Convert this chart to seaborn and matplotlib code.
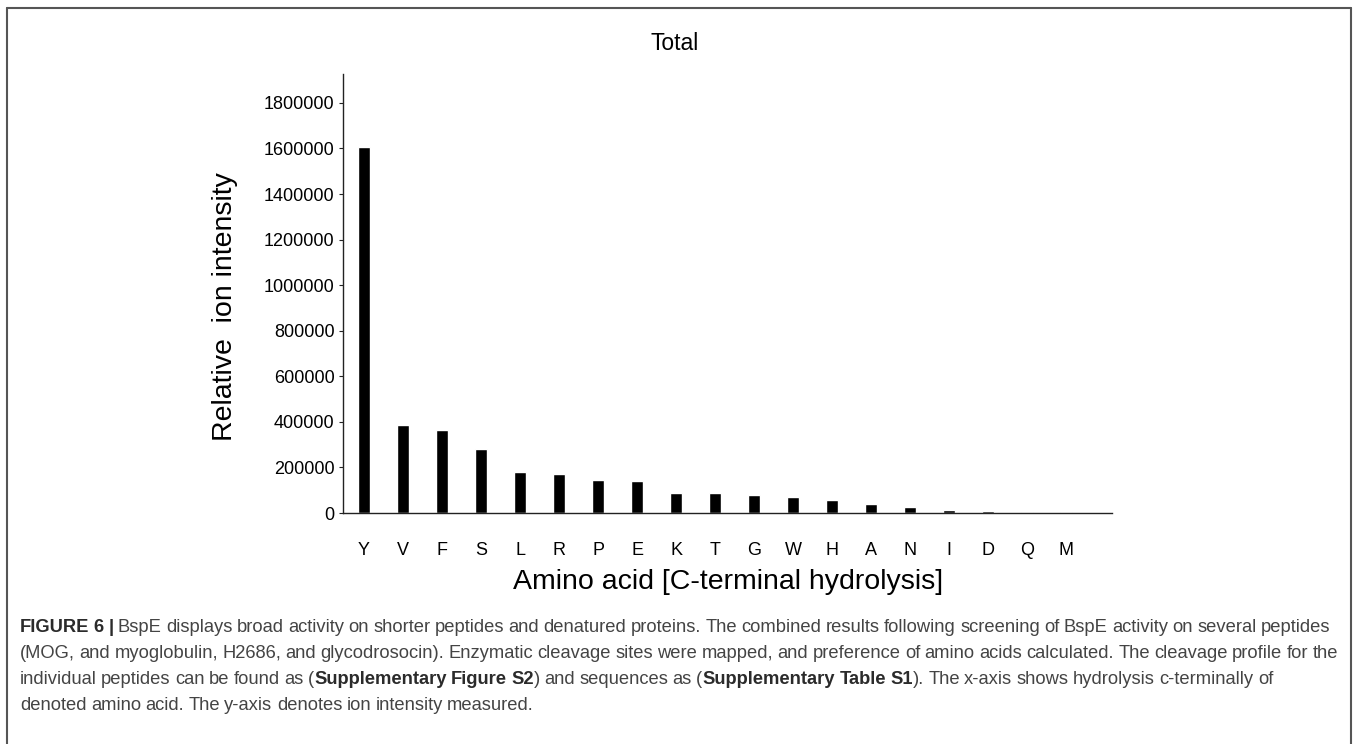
import matplotlib
matplotlib.use("Agg")
import matplotlib.pyplot as plt
import seaborn as sns
import pandas as pd
from matplotlib.lines import Line2D

# Cleavage profile
amino_acids = ['Y', 'V', 'F', 'S', 'L', 'R', 'P', 'E', 'K', 'T',
               'G', 'W', 'H', 'A', 'N', 'I', 'D', 'Q', 'M']
intensity = [1605000, 386000, 365000, 282000, 181000, 170000, 146000, 139000,
             88000, 88000, 77000, 71000, 56000, 38000, 28000, 11500, 10000,
             6000, 6000]
y_ticks = [0, 200000, 400000, 600000, 800000, 1000000, 1200000, 1400000,
           1600000, 1800000]

caption = [
    "**FIGURE 6 |** BspE displays broad activity on shorter peptides and denatured proteins. "
    "The combined results following screening of BspE activity on several peptides",
    "(MOG, and myoglobulin, H2686, and glycodrosocin). Enzymatic cleavage sites were mapped, "
    "and preference of amino acids calculated. The cleavage profile for the",
    "individual peptides can be found as (**Supplementary Figure S2**) and sequences as "
    "(**Supplementary Table S1**). The x-axis shows hydrolysis c-terminally of",
    "denoted amino acid. The y-axis denotes ion intensity measured.",
]

df = pd.DataFrame({'Amino': amino_acids, 'Intensity': intensity})

W, H = 1357, 744
sns.set_style('ticks')
plt.rcParams['font.family'] = ['Liberation Sans', 'DejaVu Sans']
plt.rcParams['text.color'] = 'black'


def fx(px):
    return px / W


def fy(py):
    return 1 - py / H


fig = plt.figure(figsize=(W / 100, H / 100), dpi=100)
ax = fig.add_axes([fx(343), fy(513), (1112 - 343) / W, (513 - 74) / H])

sns.barplot(data=df, x='Amino', y='Intensity', color='black', saturation=1,
            width=0.31, ax=ax)
ax.set_xlim(-0.54, 19.18)
ax.set_ylim(0, 1926700)
ax.set_yticks(y_ticks)
ax.set_yticklabels([str(t) for t in y_ticks])
ax.set_xlabel('')
ax.set_ylabel('')
sns.despine(ax=ax)
for s in ['left', 'bottom']:
    ax.spines[s].set_color('#222222')
    ax.spines[s].set_linewidth(1.0)
ax.tick_params(axis='y', length=3, width=0.8, pad=3, labelsize=13, colors='#222222',
               labelcolor='black')
ax.tick_params(axis='x', length=0, pad=21, labelsize=13, labelcolor='black')

fig.text(fx(675), fy(44), 'Total', fontsize=16.5, ha='center', va='center')
fig.text(fx(225), fy(307), 'Relative  ion intensity', fontsize=20.5, rotation=90,
         ha='center', va='center')
fig.text(fx(728), fy(582), 'Amino acid [C-terminal hydrolysis]', fontsize=20.5,
         ha='center', va='center')

# frame around the panel
frame_kw = dict(color='#555555', linewidth=1.5, transform=fig.transFigure)
fig.add_artist(Line2D([fx(7), fx(1351)], [fy(8), fy(8)], **frame_kw))
fig.add_artist(Line2D([fx(7), fx(7)], [fy(8), fy(744)], **frame_kw))
fig.add_artist(Line2D([fx(1351), fx(1351)], [fy(8), fy(744)], **frame_kw))

# caption, with bold runs marked by **
renderer = fig.canvas.get_renderer()


def parse(line):
    words = [[]]
    for k, seg in enumerate(line.split('**')):
        weight = 'bold' if k % 2 else 'normal'
        for j, p in enumerate(seg.split(' ')):
            if j > 0:
                words.append([])
            if p:
                words[-1].append((p, weight))
    return [w for w in words if w]


def width(s, size, weight='normal'):
    t = fig.text(0, 0, s, fontsize=size, fontweight=weight)
    w = t.get_window_extent(renderer).width
    t.remove()
    return w


def line_width(words, size, space_scale):
    sp = (width('a a', size) - width('aa', size)) * space_scale
    total = sum(width(p, size, wt) for w in words for p, wt in w)
    return total + sp * (len(words) - 1)


space_scale = 0.85
cap_lines = [parse(l) for l in caption]
cap_size = 11 * 1304 / line_width(cap_lines[0], 11, space_scale)
space = (width('a a', cap_size) - width('aa', cap_size)) * space_scale

for i, words in enumerate(cap_lines):
    x = 20
    y = 632 + 26 * i
    for w in words:
        for p, wt in w:
            fig.text(fx(x), fy(y), p, fontsize=cap_size, fontweight=wt,
                     color='#2b2b2b' if wt == 'bold' else '#444444', va='baseline')
            x += width(p, cap_size, wt)
        x += space

fig.savefig('out.png', dpi=100, facecolor='white')
